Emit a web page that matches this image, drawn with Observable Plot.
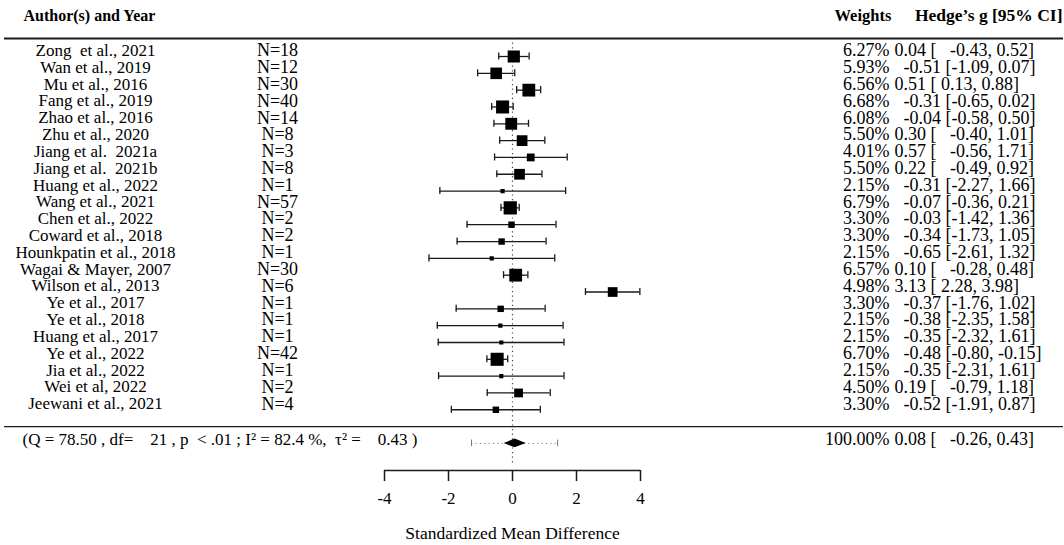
<!DOCTYPE html>
<html>
<head>
<meta charset="utf-8">
<script src="https://cdn.jsdelivr.net/npm/d3@7"></script>
<script src="https://cdn.jsdelivr.net/npm/@observablehq/plot@0.6"></script>
<style>
  html, body { margin: 0; padding: 0; background: #fff; }
  svg text { white-space: pre; }
</style>
</head>
<body>
<div id="chart"></div>
<script>
// ---- data ----
const authors = [
  "Zong  et al., 2021", "Wan et al., 2019", "Mu et al., 2016", "Fang et al., 2019",
  "Zhao et al., 2016", "Zhu et al., 2020", "Jiang et al.  2021a", "Jiang et al.  2021b",
  "Huang et al., 2022", "Wang et al., 2021", "Chen et al., 2022", "Coward et al., 2018",
  "Hounkpatin et al., 2018", "Wagai & Mayer, 2007", "Wilson et al., 2013", "Ye et al., 2017",
  "Ye et al., 2018", "Huang et al., 2017", "Ye et al., 2022", "Jia et al., 2022",
  "Wei et al, 2022", "Jeewani et al., 2021"
];
const sampleN = [18, 12, 30, 40, 14, 8, 3, 8, 1, 57, 2, 2, 1, 30, 6, 1, 1, 1, 42, 1, 2, 4];
const weights = [6.27, 5.93, 6.56, 6.68, 6.08, 5.50, 4.01, 5.50, 2.15, 6.79, 3.30, 3.30,
                 2.15, 6.57, 4.98, 3.30, 2.15, 2.15, 6.70, 2.15, 4.50, 3.30];
const estimates = [0.04, -0.51, 0.51, -0.31, -0.04, 0.30, 0.57, 0.22, -0.31, -0.07, -0.03, -0.34,
                   -0.65, 0.10, 3.13, -0.37, -0.38, -0.35, -0.48, -0.35, 0.19, -0.52];
const lowerCI = [-0.43, -1.09, 0.13, -0.65, -0.58, -0.40, -0.56, -0.49, -2.27, -0.36, -1.42, -1.73,
                 -2.61, -0.28, 2.28, -1.76, -2.35, -2.32, -0.80, -2.31, -0.79, -1.91];
const upperCI = [0.52, 0.07, 0.88, 0.02, 0.50, 1.01, 1.71, 0.92, 1.66, 0.21, 1.36, 1.05,
                 1.32, 0.48, 3.98, 1.02, 1.58, 1.61, -0.15, 1.61, 1.18, 0.87];

const summaryLabel = "(Q = 78.50 , df=    21 , p  < .01 ; I² = 82.4 %,  τ² =    0.43 )";
const summaryWeight = 100.00;
const summaryEstimate = 0.08;
const summaryLower = -0.26;
const summaryUpper = 0.43;
const predictionLower = -1.28;
const predictionUpper = 1.41;

const headerLeft = "Author(s) and Year";
const headerWeights = "Weights";
const headerEffect = "Hedge’s g [95% CI]";
const axisTitle = "Standardized Mean Difference";
const xTicks = [-4, -2, 0, 2, 4];

// ---- helpers ----
const fmt = v => v.toFixed(2);
function effectText(est, lo, hi) {
  if (est < 0) return "  " + fmt(est) + " [" + fmt(lo) + ", " + fmt(hi) + "]";
  return fmt(est) + " [" + (lo < 0 ? "   " : " ") + fmt(lo) + ", " + fmt(hi) + "]";
}

const rows = authors.map((a, i) => ({
  i, author: a, n: "N=" + sampleN[i], w: weights[i],
  est: estimates[i], lo: lowerCI[i], hi: upperCI[i],
  wText: weights[i].toFixed(2) + "%",
  eText: effectText(estimates[i], lowerCI[i], upperCI[i])
}));

const sy = rows.length + 1; // summary row index
const summary = [{
  i: sy, label: summaryLabel,
  wText: summaryWeight.toFixed(2) + "%",
  eText: effectText(summaryEstimate, summaryLower, summaryUpper),
  pLo: predictionLower, pHi: predictionUpper
}];
const dh = 0.26;
const diamond = [
  {y: sy - dh, x1: summaryEstimate, x2: summaryEstimate},
  {y: sy, x1: summaryLower, x2: summaryUpper},
  {y: sy + dh, x1: summaryEstimate, x2: summaryEstimate}
];

const yDomain = [-1.07, 24.61];
const cap = 0.21;
const ink = "#1a1a1a";
const numSize = 18;

const chart = Plot.plot({
  width: 1064,
  height: 545,
  marginLeft: 384,
  marginRight: 424,
  marginTop: 38,
  marginBottom: 75,
  x: {domain: [-4, 4]},
  y: {domain: yDomain, reverse: true, axis: null},
  r: {type: "linear", domain: [0, 1], range: [0, 1.95 / Math.sqrt(Math.PI)]},
  style: {fontFamily: "'Liberation Serif', 'Times New Roman', serif", fontSize: "17px", background: "#fff", color: "#000"},
  marks: [
    // header and separator rules (full width)
    Plot.ruleY([yDomain[0]], {insetLeft: -380, insetRight: -423, stroke: ink, strokeWidth: 1.8}),
    Plot.ruleY([rows.length], {insetLeft: -380, insetRight: -423, stroke: ink, strokeWidth: 1.4}),
    // reference line at 0
    Plot.ruleX([0], {insetBottom: 6, stroke: "#444", strokeWidth: 1.2, strokeDasharray: "1.2,3.4"}),
    // confidence intervals
    Plot.ruleY(rows, {y: "i", x1: "lo", x2: "hi", stroke: ink, strokeWidth: 1.3}),
    Plot.ruleX(rows, {x: "lo", y1: d => d.i - cap, y2: d => d.i + cap, stroke: ink, strokeWidth: 1.3}),
    Plot.ruleX(rows, {x: "hi", y1: d => d.i - cap, y2: d => d.i + cap, stroke: ink, strokeWidth: 1.3}),
    // squares sized by weight
    Plot.dot(rows, {x: "est", y: "i", r: "w", symbol: "square", fill: "#000", stroke: "none"}),
    // prediction interval (dotted)
    Plot.ruleY(summary, {y: "i", x1: "pLo", x2: "pHi", stroke: "#777", strokeWidth: 1, strokeDasharray: "1.2,3.2"}),
    Plot.ruleX(summary, {x: "pLo", y1: d => d.i - 0.2, y2: d => d.i + 0.2, stroke: "#777", strokeWidth: 1}),
    Plot.ruleX(summary, {x: "pHi", y1: d => d.i - 0.2, y2: d => d.i + 0.2, stroke: "#777", strokeWidth: 1}),
    // summary diamond
    Plot.areaX(diamond, {y: "y", x1: "x1", x2: "x2", fill: "#000"}),
    // axis
    Plot.ruleY([yDomain[1]], {stroke: ink, strokeWidth: 1.5}),
    Plot.axisX({ticks: xTicks, tickSize: 11, tickPadding: 10, tickFormat: d => String(d), fontSize: 17, label: null, stroke: ink, strokeWidth: 1.5, color: "#000"}),
    Plot.text([axisTitle], {frameAnchor: "bottom", dy: 63, lineAnchor: "middle", fontSize: 17.5}),
    // headers
    Plot.text([headerLeft], {frameAnchor: "top-left", dx: 23 - 384, dy: -23, textAnchor: "start", lineAnchor: "middle", fontWeight: "bold", fontSize: 16}),
    Plot.text([headerWeights], {frameAnchor: "top-right", dx: 194, dy: -23, textAnchor: "start", lineAnchor: "middle", fontWeight: "bold", fontSize: 16.5}),
    Plot.text([headerEffect], {frameAnchor: "top-right", dx: 422, dy: -23, textAnchor: "end", lineAnchor: "middle", fontWeight: "bold", fontSize: 17.5}),
    // row text columns
    Plot.text(rows, {y: "i", text: "author", frameAnchor: "left", dx: -289, dy: -6, textAnchor: "middle", lineAnchor: "middle"}),
    Plot.text(rows, {y: "i", text: "n", frameAnchor: "left", dx: -107, dy: -6, textAnchor: "middle", lineAnchor: "middle", fontSize: numSize}),
    Plot.text(rows, {y: "i", text: "wText", frameAnchor: "right", dx: 249, dy: -6, textAnchor: "end", lineAnchor: "middle", fontSize: numSize}),
    Plot.text(rows, {y: "i", text: "eText", frameAnchor: "right", dx: 254, dy: -6, textAnchor: "start", lineAnchor: "middle", fontSize: numSize}),
    // summary text
    Plot.text(summary, {y: "i", text: "label", frameAnchor: "left", dx: 22 - 384, dy: -4, textAnchor: "start", lineAnchor: "middle"}),
    Plot.text(summary, {y: "i", text: "wText", frameAnchor: "right", dx: 249, dy: -4, textAnchor: "end", lineAnchor: "middle", fontSize: numSize}),
    Plot.text(summary, {y: "i", text: "eText", frameAnchor: "right", dx: 254, dy: -4, textAnchor: "start", lineAnchor: "middle", fontSize: numSize})
  ]
});
document.getElementById("chart").appendChild(chart);
</script>
</body>
</html>
